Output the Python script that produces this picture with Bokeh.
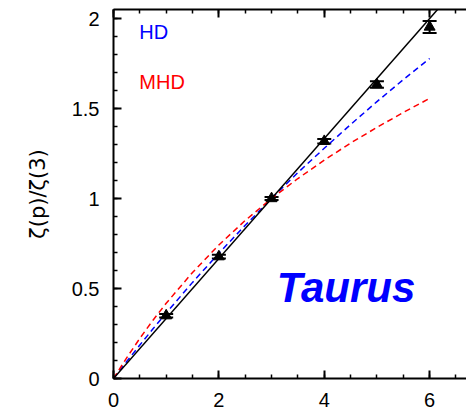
from bokeh.plotting import figure
from bokeh.models import (LinearAxis, Range1d, ColumnDataSource, Whisker,
                          SingleIntervalTicker)
from bokeh.core.properties import value
from bokeh.embed import file_html
from bokeh.resources import INLINE

# Data
p_obs = [1, 2, 3, 4, 5, 6]
zeta_obs = [0.349, 0.677, 1.0, 1.318, 1.633, 1.953]
zeta_err = [0.010, 0.010, 0.008, 0.012, 0.018, 0.033]

p_line = [0, 7]
zeta_line = [0, 2.333]

p_model = [0, 0.25, 0.5, 0.75, 1, 1.5, 2, 2.5, 3, 3.5, 4, 4.5, 5, 5.5, 6]
zeta_hd = [0, 0.094, 0.186, 0.276, 0.364, 0.534, 0.696, 0.851, 1.0,
           1.144, 1.279, 1.411, 1.538, 1.660, 1.778]
zeta_mhd = [0, 0.115, 0.223, 0.324, 0.418, 0.589, 0.742, 0.878, 1.0,
            1.111, 1.213, 1.308, 1.395, 1.478, 1.556]

x_ticks = [0, 2, 4, 6]

FONT = "Liberation Sans"

p = figure(width=466, height=411, output_backend="svg", toolbar_location=None,
           x_range=Range1d(0, 6.70), y_range=Range1d(0, 2.05),
           min_border_left=113, min_border_right=0, min_border_top=9,
           min_border_bottom=33)
p.outline_line_color = None
p.grid.visible = False
p.background_fill_color = "white"

for ax in (p.xaxis[0], p.yaxis[0]):
    ax.axis_line_width = 2
    ax.axis_line_color = "black"
    ax.major_tick_in = 8
    ax.major_tick_out = 0
    ax.minor_tick_in = 4
    ax.minor_tick_out = 0
    ax.major_tick_line_width = 2
    ax.minor_tick_line_width = 1.5
    ax.major_label_text_font = FONT
    ax.major_label_text_font_size = "20px"
    ax.major_label_text_color = "black"

p.xaxis[0].ticker = SingleIntervalTicker(interval=2, num_minor_ticks=4)
p.yaxis[0].ticker = SingleIntervalTicker(interval=0.5, num_minor_ticks=5)
p.xaxis[0].major_label_standoff = 14
p.yaxis[0].major_label_standoff = 14
p.yaxis[0].axis_label = "ζ(p)/ζ(3)"
p.yaxis[0].axis_label_text_font = "DejaVu Sans"
p.yaxis[0].axis_label_text_font_style = "normal"
p.yaxis[0].axis_label_text_font_size = "21px"
p.yaxis[0].axis_label_text_color = "black"
p.yaxis[0].axis_label_standoff = 19

top = LinearAxis(ticker=SingleIntervalTicker(interval=2, num_minor_ticks=4))
top.axis_line_width = 2
top.major_tick_in = 8
top.major_tick_out = 0
top.minor_tick_in = 4
top.minor_tick_out = 0
top.major_tick_line_width = 2
top.minor_tick_line_width = 1.5
top.major_label_overrides = {t: "" for t in x_ticks}
top.major_label_standoff = 0
p.add_layout(top, "above")

# Model curves
p.line(p_model, zeta_hd, line_color="blue", line_dash="6 4", line_width=1.5)
p.line(p_model, zeta_mhd, line_color="red", line_dash="6 4", line_width=1.5)
p.line(p_line, zeta_line, line_color="black", line_width=1.5)

src = ColumnDataSource(dict(
    p=p_obs, z=zeta_obs,
    lo=[z - e for z, e in zip(zeta_obs, zeta_err)],
    hi=[z + e for z, e in zip(zeta_obs, zeta_err)]))
w = Whisker(source=src, base="p", lower="lo", upper="hi",
            line_color="black", line_width=2)
w.upper_head.size = 14
w.lower_head.size = 14
w.upper_head.line_width = 2
w.lower_head.line_width = 2
p.add_layout(w)
p.scatter("p", "z", source=src, marker="triangle", size=11,
          fill_color="black", line_color="black")

p.text(x=[0.49], y=[1.925], text=["HD"], text_color="blue",
       text_font=value(FONT), text_font_size="20px", text_baseline="alphabetic")
p.text(x=[0.49], y=[1.647], text=["MHD"], text_color="red",
       text_font=value(FONT), text_font_size="20px", text_baseline="alphabetic")
p.text(x=[3.10], y=[0.504], text=["Taurus"], text_color="blue",
       text_font=value(FONT), text_font_size="42px", text_font_style="bold italic",
       text_baseline="alphabetic")

open("out.html", "w").write(file_html(p, INLINE))
